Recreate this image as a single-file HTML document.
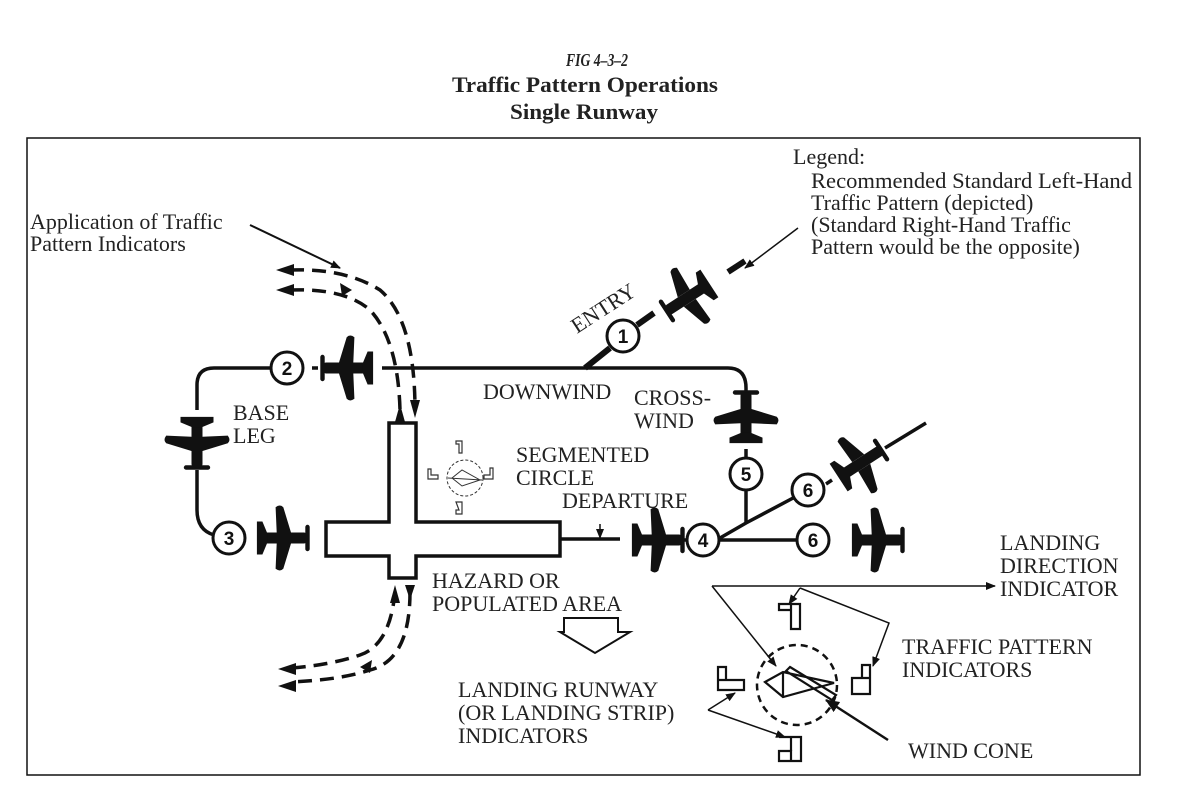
<!DOCTYPE html>
<html><head><meta charset="utf-8"><style>
html,body{margin:0;padding:0;background:#fff;}
svg{display:block;}
text{font-family:"Liberation Serif",serif;fill:#222;}
.n{font-family:"Liberation Sans",sans-serif;font-weight:bold;font-size:19px;fill:#111;}
</style></head><body>
<svg width="1182" height="793" viewBox="0 0 1182 793" xmlns="http://www.w3.org/2000/svg">
<defs>
<g id="pl">
  <rect x="-12" y="-27" width="24" height="4" rx="2" fill="#111"/>
  <path d="M-5,-22 Q-5,-25 0,-25 Q5,-25 5,-22 L5,18 L-5,18 Z" fill="#111"/>
  <path d="M-5,-10 L-28,-3 Q-31,0 -28,4 L-5,3 Z M5,-10 L28,-3 Q31,0 28,4 L5,3 Z" fill="#111"/>
  <path d="M-3,11 L-15,16 L-15,21 L15,21 L15,16 L3,11 Z" fill="#111"/>
</g>
<marker id="ah" markerWidth="10" markerHeight="8" refX="9" refY="4" orient="auto" markerUnits="userSpaceOnUse">
  <path d="M0,0 L10,4 L0,8 Z" fill="#111"/>
</marker>
<marker id="bh" markerWidth="14" markerHeight="12" refX="13" refY="6" orient="auto" markerUnits="userSpaceOnUse">
  <path d="M0,0 L14,6 L0,12 Z" fill="#111"/>
</marker>
</defs>

<text x="597" y="66" text-anchor="middle" font-size="18" font-style="italic" font-weight="bold" textLength="62" lengthAdjust="spacingAndGlyphs">FIG 4–3–2</text>
<text x="585" y="92" text-anchor="middle" font-size="22" font-weight="bold" textLength="266" lengthAdjust="spacingAndGlyphs">Traffic Pattern Operations</text>
<text x="584" y="119" text-anchor="middle" font-size="22" font-weight="bold" textLength="148" lengthAdjust="spacingAndGlyphs">Single Runway</text>

<rect x="27" y="138" width="1113" height="637" fill="none" stroke="#111" stroke-width="1.5"/>

<g font-size="22">
<text x="793" y="164">Legend:</text>
<text x="811" y="188" textLength="321" lengthAdjust="spacingAndGlyphs">Recommended Standard Left-Hand</text>
<text x="811" y="210">Traffic Pattern (depicted)</text>
<text x="811" y="232">(Standard Right-Hand Traffic</text>
<text x="811" y="254">Pattern would be the opposite)</text>
<text x="30" y="229">Application of Traffic</text>
<text x="30" y="251">Pattern Indicators</text>
<text x="483" y="399">DOWNWIND</text>
<text x="634" y="405">CROSS-</text>
<text x="634" y="428">WIND</text>
<text x="233" y="420">BASE</text>
<text x="233" y="443">LEG</text>
<text x="516" y="462">SEGMENTED</text>
<text x="516" y="485">CIRCLE</text>
<text x="562" y="508">DEPARTURE</text>
<text x="362" y="548">RUNWAY</text>
<text x="432" y="588">HAZARD OR</text>
<text x="432" y="611">POPULATED AREA</text>
<text x="458" y="697">LANDING RUNWAY</text>
<text x="458" y="720">(OR LANDING STRIP)</text>
<text x="458" y="743">INDICATORS</text>
<text x="1000" y="550">LANDING</text>
<text x="1000" y="573">DIRECTION</text>
<text x="1000" y="596">INDICATOR</text>
<text x="902" y="654">TRAFFIC PATTERN</text>
<text x="902" y="677">INDICATORS</text>
<text x="908" y="758">WIND CONE</text>
<text x="0" y="0" transform="translate(577,334) rotate(-33)">ENTRY</text>
</g>

<!-- callout arrows -->
<line x1="250" y1="225" x2="340" y2="268" stroke="#111" stroke-width="2" marker-end="url(#ah)"/>
<line x1="798" y1="228" x2="745" y2="268" stroke="#111" stroke-width="1.5" marker-end="url(#ah)"/>

<!-- traffic pattern -->
<g fill="none" stroke="#111" stroke-width="3.5">
<path d="M273,368 L214,368 Q197,368 197,385 L197,410"/>
<path d="M197,470 L197,510 Q197,530 214,535"/>
<line x1="312" y1="368" x2="318" y2="368"/>
<path d="M382,368 L728,368 Q746,368 746,388 L746,391"/>
<line x1="746" y1="449" x2="746" y2="458"/>
<line x1="746" y1="490" x2="746" y2="523"/>
<line x1="585" y1="368" x2="610" y2="348" stroke-width="6"/>
<line x1="637" y1="325" x2="654" y2="313" stroke-width="6"/>
<line x1="728" y1="272" x2="745" y2="261" stroke-width="6"/>
<line x1="560" y1="539" x2="620" y2="539"/>
<line x1="718" y1="540" x2="797" y2="540"/>
<path d="M720,538 L746,523 L795,497"/>
<line x1="826" y1="484" x2="832" y2="480"/>
<line x1="885" y1="448" x2="926" y2="423"/>
<line x1="688" y1="540" x2="684" y2="540"/>
</g>
<line x1="600" y1="524" x2="600" y2="538" stroke="#111" stroke-width="1.5" marker-end="url(#ah)"/>

<!-- circles -->
<g fill="#fff" stroke="#111" stroke-width="3">
<circle cx="287" cy="368" r="16"/><circle cx="229" cy="538" r="16"/>
<circle cx="623" cy="336" r="16"/><circle cx="746" cy="474" r="16"/>
<circle cx="703" cy="540" r="16"/><circle cx="808" cy="490" r="16"/>
<circle cx="813" cy="540" r="16"/>
</g>
<g class="n" text-anchor="middle">
<text x="287" y="375" class="n">2</text><text x="229" y="545" class="n">3</text>
<text x="623" y="343" class="n">1</text><text x="746" y="481" class="n">5</text>
<text x="703" y="547" class="n">4</text><text x="808" y="497" class="n">6</text>
<text x="813" y="547" class="n">6</text>
</g>

<!-- planes -->
<use href="#pl" transform="translate(350,368) rotate(-90) scale(1.1)"/>
<use href="#pl" transform="translate(197,440) rotate(180) scale(1.1)"/>
<use href="#pl" transform="translate(280,538) rotate(90) scale(1.1)"/>
<use href="#pl" transform="translate(746,420) scale(1.1)"/>
<use href="#pl" transform="translate(655,540) rotate(90) scale(1.1)"/>
<use href="#pl" transform="translate(875,540) rotate(90) scale(1.1)"/>
<use href="#pl" transform="translate(690,296) rotate(-123) scale(1.1)"/>
<use href="#pl" transform="translate(858,465) rotate(57) scale(1.1)"/>

<!-- runway -->
<path d="M389,423 L416,423 L416,522 L560,522 L560,556 L416,556 L416,578 L389,578 L389,556 L326,556 L326,522 L389,522 Z" fill="#fff" stroke="#111" stroke-width="3.5"/>

<!-- dashed approach arcs -->
<g fill="none" stroke="#111" stroke-width="3.5" stroke-dasharray="14,8">
<path d="M290,270 Q345,268 380,290 Q415,320 415,410"/>
<path d="M290,290 Q345,288 370,310 Q398,340 400,410"/>
<path d="M410,592 Q410,660 370,670 Q340,680 290,682"/>
<path d="M395,592 Q390,645 360,655 Q330,665 292,668"/>
</g>
<g fill="#111">
<path d="M276,270 L294,264 L294,276 Z"/>
<path d="M276,290 L294,284 L294,296 Z"/>
<path d="M415,418 L410,400 L420,400 Z"/>
<path d="M400,404 L395,422 L405,422 Z"/>
<path d="M395,585 L390,603 L400,603 Z"/>
<path d="M410,600 L405,585 L415,585 Z"/>
<path d="M278,669 L296,663 L296,675 Z"/>
<path d="M278,686 L296,680 L296,692 Z"/>
<path d="M340,283 L352,290 L342,296 Z"/>
<path d="M372,660 L360,667 L370,673 Z"/>
</g>

<!-- small segmented circle -->
<circle cx="465" cy="478" r="18" fill="none" stroke="#333" stroke-width="1" stroke-dasharray="3,2"/>
<path d="M452,478 L462,470 L480,480 L462,486 Z M448,478 L482,480" fill="none" stroke="#333" stroke-width="1"/>
<g fill="none" stroke="#333" stroke-width="1.2">
<path d="M456,441 h6 v12 h-3 v-9 h-3 z"/>
<path d="M428,469 v10 h10 v-4 h-7 v-6 z"/>
<path d="M493,468 v11 h-9 v-4 h6 v-7 z"/>
<path d="M456,502 h6 v12 h-6 v-4 h3 z"/>
</g>

<!-- hazard arrow -->
<path d="M564,618 L618,618 L618,632 L630,632 L595,653 L560,632 L564,632 Z" fill="#fff" stroke="#111" stroke-width="2"/>

<!-- big segmented circle -->
<circle cx="797" cy="685" r="40" fill="none" stroke="#111" stroke-width="2.5" stroke-dasharray="7,5"/>
<g fill="none" stroke="#111" stroke-width="2.2">
<path d="M765,682 L783,672 L834,683 L783,697 Z M783,672 L783,697"/>
<path d="M790,667 L836,695 L832,700 L786,671 Z"/>
<path d="M779,604 h12 v6 h-12 z M791,604 h9 v25 h-9 z"/>
<path d="M852,678 h18 v16 h-18 z M862,665 h8 v13 h-8 z"/>
<path d="M718,680 h26 v10 h-26 z M718,667 h8 v13 h-8 z"/>
<path d="M779,737 h12 h10 v24 h-22 v-10 h12 v10"/>
<path d="M791,737 v14"/>
</g>
<g stroke="#111" stroke-width="1.5" fill="none">
<line x1="712" y1="586" x2="995" y2="586" marker-end="url(#ah)"/>
<line x1="712" y1="586" x2="776" y2="666" marker-end="url(#ah)"/>
<line x1="800" y1="588" x2="789" y2="604" marker-end="url(#ah)"/>
<polyline points="800,588 889,623 873,666" marker-end="url(#ah)"/>
<line x1="708" y1="710" x2="735" y2="693" marker-end="url(#ah)"/>
<line x1="708" y1="710" x2="785" y2="737" marker-end="url(#ah)"/>
</g>
<line x1="888" y1="740" x2="826" y2="700" stroke="#111" stroke-width="2.5" marker-end="url(#bh)"/>
</svg>
</body></html>
